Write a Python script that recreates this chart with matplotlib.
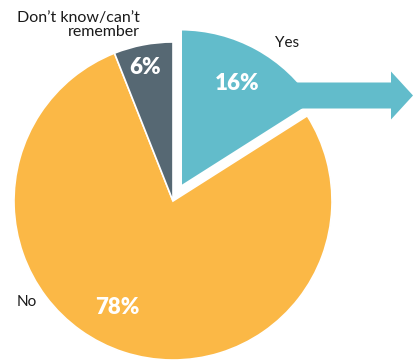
import matplotlib
matplotlib.use("Agg")
import matplotlib.pyplot as plt
from matplotlib.patches import FancyArrow

categories = ["Yes", "No", "Don\u2019t know/can\u2019t\nremember"]
values = [16, 78, 6]
colors = ["#62BCCB", "#FBB846", "#566873"]
explode_frac = [0.095, 0, 0]

W, H = 414, 361
fig = plt.figure(figsize=(W / 100, H / 100), dpi=100)
ax = fig.add_axes([0, 0, 1, 1])

cx, cy, r = 173, H - 201, 159
wedges, _ = ax.pie(values, colors=colors, startangle=90, counterclock=False,
                   explode=[e * r for e in explode_frac], center=(cx, cy), radius=r,
                   wedgeprops=dict(edgecolor="white", linewidth=1.2))
wedges[0].set_linewidth(2.5)

ax.set_xlim(0, W)
ax.set_ylim(0, H)
ax.set_aspect("equal")
ax.axis("off")

# arrow from the Yes slice
ay = H - 95.5
arr = FancyArrow(280, ay, 133, 0, width=26, head_width=48, head_length=22,
                 length_includes_head=True, color=colors[0], lw=0, zorder=3)
ax.add_patch(arr)

font = "Lato"
ax.text(287, H - 43, categories[0], ha="center", va="center", fontsize=11,
        family=font, color="#1a1a1a")
ax.text(140, H - 25, categories[2], ha="right", va="center", fontsize=11.5,
        family=font, color="#1a1a1a", linespacing=0.95, multialignment="right")
ax.text(27, H - 302, "No", ha="center", va="center", fontsize=11,
        family=font, color="#1a1a1a")

pct_pos = [(237, H - 83), (117, H - 308), (145, H - 68)]
for (x, y), v in zip(pct_pos, values):
    ax.text(x, y, f"{v}%", ha="center", va="center", fontsize=16,
            fontweight="heavy", family=font, color="white", zorder=4)

fig.savefig("out.png", dpi=100)
